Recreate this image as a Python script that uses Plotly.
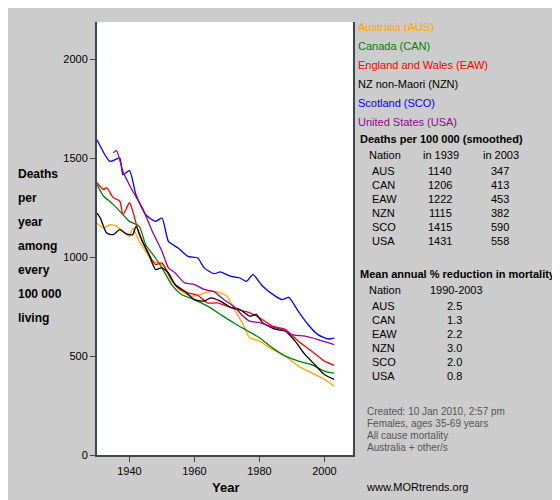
import plotly.graph_objects as go

nations = ["Australia (AUS)", "Canada (CAN)", "England and Wales (EAW)",
           "NZ non-Maori (NZN)", "Scotland (SCO)", "United States (USA)"]
colors = ["#FFA500", "#008000", "#FF0000", "#000000", "#0000FF", "#990099"]

aus_x = [1930, 1932, 1934, 1936, 1938, 1940, 1941, 1943, 1945, 1947, 1949, 1951, 1953, 1956, 1959, 1962,
         1965, 1968, 1970, 1972, 1975, 1977, 1980, 1984, 1988, 1992, 1996, 2000, 2003]
aus_y = [1171, 1146, 1163, 1155, 1130, 1104, 1146, 1079, 1029, 979, 970, 945, 878, 827, 802, 811,
         827, 819, 802, 743, 659, 592, 575, 533, 499, 449, 415, 382, 347]
can_x = [1930, 1932, 1935, 1938, 1940, 1943, 1945, 1948, 1950, 1953, 1956, 1960, 1964, 1968, 1972, 1976,
         1980, 1984, 1988, 1992, 1996, 2000, 2003]
can_y = [1366, 1308, 1266, 1214, 1180, 1155, 1062, 995, 945, 861, 811, 785, 752, 710, 668, 630,
         592, 541, 499, 474, 457, 424, 413]
eaw_x = [1930, 1932, 1933, 1935, 1937, 1938, 1940, 1941, 1943, 1945, 1948, 1950, 1952, 1955, 1958, 1961,
         1964, 1967, 1970, 1973, 1977, 1980, 1984, 1988, 1992, 1996, 2000, 2003]
eaw_y = [1375, 1341, 1350, 1300, 1283, 1214, 1274, 1232, 1115, 1045, 962, 970, 911, 844, 819, 807,
         768, 768, 752, 735, 718, 693, 651, 634, 575, 525, 474, 453]
nzn_x = [1930, 1931, 1933, 1935, 1937, 1939, 1941, 1942, 1944, 1946, 1948, 1950, 1952, 1954, 1957, 1960,
         1963, 1965, 1968, 1971, 1974, 1977, 1979, 1981, 1985, 1988, 1991, 1994, 1997, 2000, 2003]
nzn_y = [1222, 1197, 1121, 1113, 1138, 1117, 1113, 1155, 1079, 1012, 937, 945, 920, 861, 827, 785,
         777, 794, 777, 747, 735, 701, 710, 668, 634, 626, 575, 508, 457, 407, 382]
sco_x = [1930, 1934, 1937, 1938, 1940, 1942, 1945, 1948, 1950, 1952, 1955, 1958, 1961, 1963, 1966, 1968,
         1971, 1974, 1976, 1978, 1981, 1985, 1987, 1989, 1992, 1995, 1998, 2001, 2003]
sco_y = [1592, 1483, 1500, 1415, 1436, 1315, 1214, 1180, 1197, 1079, 1045, 1003, 995, 945, 916, 925,
         903, 894, 877, 911, 852, 801, 785, 796, 725, 658, 608, 586, 590]
usa_x = [1935, 1936, 1938, 1941, 1944, 1947, 1950, 1952, 1954, 1957, 1960, 1963, 1966, 1969, 1972, 1975,
         1977, 1980, 1984, 1987, 1990, 1994, 1998, 2003]
usa_y = [1526, 1537, 1432, 1332, 1247, 1130, 1029, 945, 920, 869, 861, 836, 825, 785, 752, 701,
         676, 668, 646, 634, 608, 600, 583, 558]

codes = ["AUS", "CAN", "EAW", "NZN", "SCO", "USA"]
in1939 = [1140, 1206, 1222, 1115, 1415, 1431]
in2003 = [347, 413, 453, 382, 590, 558]
reduction = ["2.5", "1.3", "2.2", "3.0", "2.0", "0.8"]

series = [(aus_x, aus_y), (can_x, can_y), (eaw_x, eaw_y), (nzn_x, nzn_y), (sco_x, sco_y), (usa_x, usa_y)]

fig = go.Figure()
for (xs, ys), name, c in zip(series, nations, colors):
    fig.add_trace(go.Scatter(x=xs, y=ys, mode="lines", name=name,
                             line=dict(color=c, width=1.3, shape="spline", smoothing=0.6)))

ann = []
def txt(x, y, s, size=11, color="#000", bold=False, xanchor="left"):
    ann.append(dict(x=x, y=y, xref="paper", yref="paper", text=f"<b>{s}</b>" if bold else s,
                    showarrow=False, xanchor=xanchor, yanchor="middle",
                    font=dict(size=size, color=color)))

# paper coords: plot spans x 89..345 px, y 14..447 px
def px(x):
    return (x - 89) / 256
def py(y):
    return (447 - y) / 433

for i, (name, c) in enumerate(zip(nations, colors)):
    txt(px(348), py(19 + 19 * i), name, color=c)

txt(px(350), py(131), "Deaths per 100 000 (smoothed)", bold=True)
txt(px(359), py(147), "Nation")
txt(px(413), py(147), "in 1939")
txt(px(473), py(147), "in 2003")
for i, cd in enumerate(codes):
    yy = py(163 + 14 * i)
    txt(px(362), yy, cd)
    txt(px(432), yy, str(in1939[i]), xanchor="center")
    txt(px(492), yy, str(in2003[i]), xanchor="center")

txt(px(350), py(266), "Mean annual % reduction in mortality", bold=True)
txt(px(359), py(282), "Nation")
txt(px(420), py(282), "1990-2003")
for i, cd in enumerate(codes):
    yy = py(298 + 14 * i)
    txt(px(362), yy, cd)
    txt(px(446), yy, reduction[i], xanchor="center")

for i, s in enumerate(["Created: 10 Jan 2010, 2:57 pm", "Females, ages 35-69 years",
                       "All cause mortality", "Australia + other/s"]):
    txt(px(357), py(403 + 12 * i), s, size=10, color="#555")

txt(px(356), py(479), "www.MORtrends.org", size=11)
txt(px(217), py(479), "Year", size=13, bold=True, xanchor="center")
for i, s in enumerate(["Deaths", "per", "year", "among", "every", "100 000", "living"]):
    txt(px(8), py(166 + 24 * i), s, size=12, bold=True)

fig.update_layout(
    width=560, height=500, showlegend=False,
    paper_bgcolor="#CCCCCC", plot_bgcolor="#FFFFFF",
    margin=dict(l=89, r=215, t=14, b=53, autoexpand=False),
    font=dict(family="Liberation Sans, Arial, sans-serif", size=11, color="#000"),
    annotations=ann,
    xaxis=dict(range=[1930, 2008.8], tickvals=[1940, 1960, 1980, 2000], showgrid=False, zeroline=False,
               ticks="outside", ticklen=5, tickcolor="#444", showline=True, linecolor="#3a4a50",
               linewidth=2, tickfont=dict(size=11)),
    yaxis=dict(range=[0, 2187], tickvals=[0, 500, 1000, 1500, 2000], showgrid=False, zeroline=False,
               ticks="outside", ticklen=5, tickcolor="#444", showline=True, linecolor="#3a4a50",
               linewidth=2, mirror=True, tickfont=dict(size=11)),
)

fig.write_html("out.html")
